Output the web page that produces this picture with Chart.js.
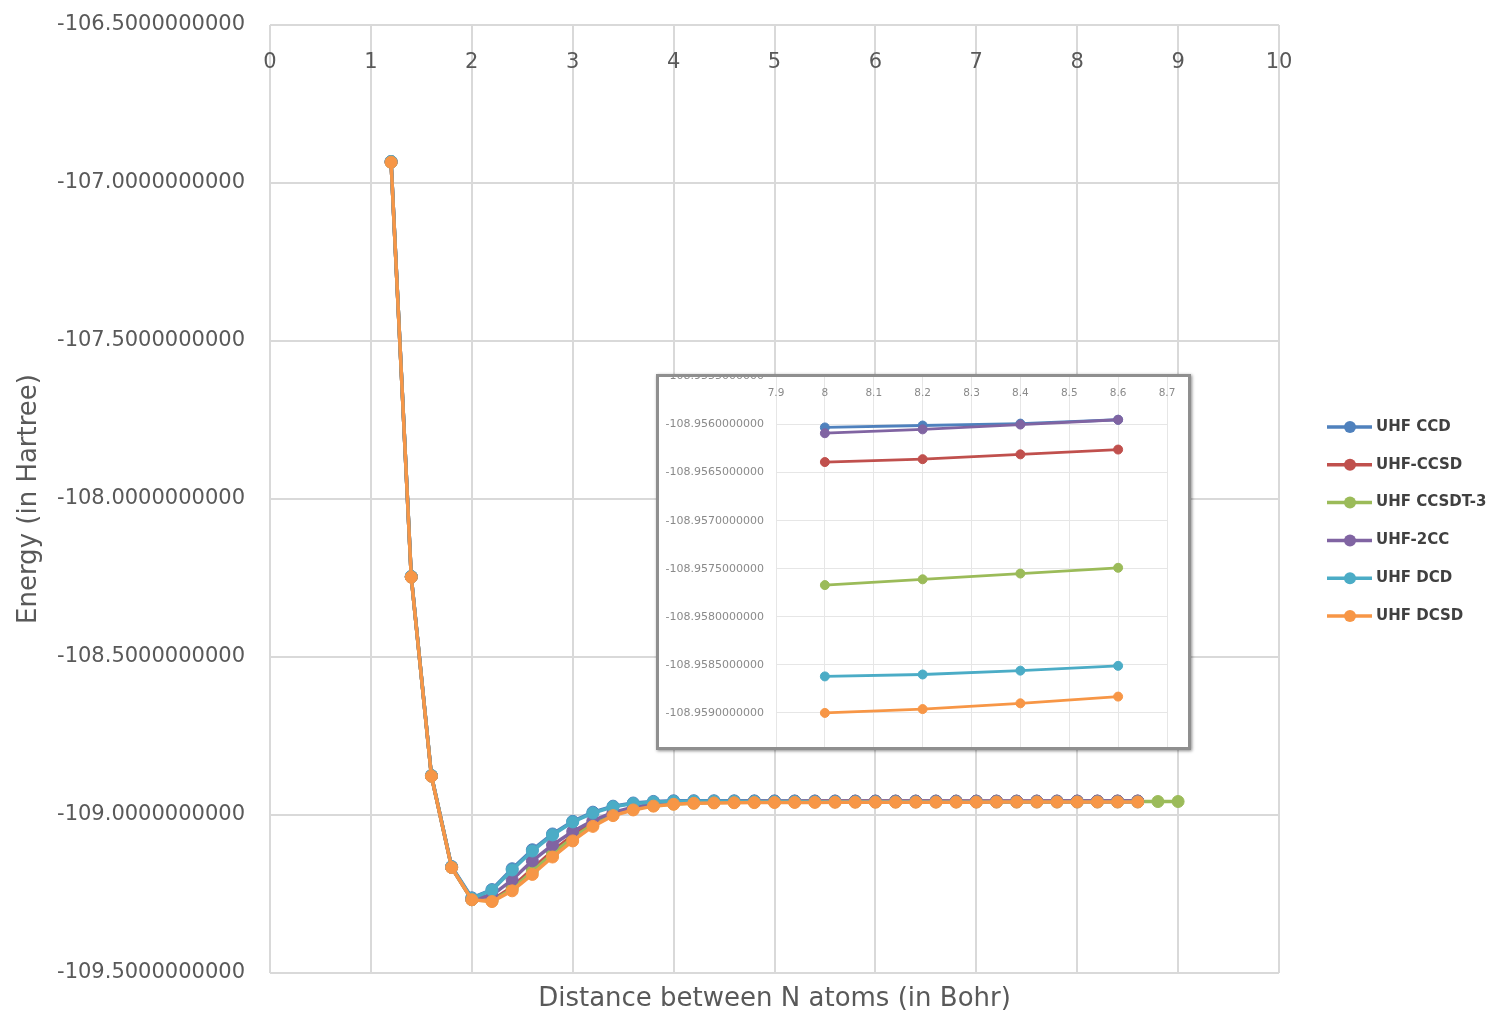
<!DOCTYPE html>
<html>
  <head>
    <meta charset="utf-8"/>
    <style type="text/css">
      body {
        margin: 0px;
        padding: 0px;
        background: #ffffff;
      }
      #wrap {
        position: relative;
        width: 1493px;
        height: 1017px;
      }
      #main {
        position: absolute;
        left: 0;
        top: 0;
      }
      #insetBox {
        position: absolute;
        left: 656px;
        top: 374px;
        width: 535px;
        height: 376px;
        box-sizing: border-box;
        border: 3px solid #8f8f8f;
        box-shadow: 1px 1px 3px rgba(0,0,0,0.45);
        background: #ffffff;
        overflow: hidden;
      }
      #inset {
        position: absolute;
        left: 0;
        top: -6px;
      }
    </style>
  </head>
  <body>
    <div id="wrap">
      <canvas id="main" width="1493" height="1017"></canvas>
      <div id="insetBox">
        <canvas id="inset" width="529" height="400"></canvas>
      </div>
    </div>
  </body>
  <script src="https://cdn.jsdelivr.net/npm/chart.js@4.4.1/dist/chart.umd.min.js"></script>
  <script>
    // distances (Bohr)
    var distances = [1.2, 1.4, 1.6, 1.8, 2.0, 2.2, 2.4, 2.6, 2.8, 3.0, 3.2, 3.4, 3.6, 3.8, 4.0,
      4.2, 4.4, 4.6, 4.8, 5.0, 5.2, 5.4, 5.6, 5.8, 6.0, 6.2, 6.4, 6.6, 6.8, 7.0,
      7.2, 7.4, 7.6, 7.8, 8.0, 8.2, 8.4, 8.6];
    var distancesLong = distances.concat([8.8, 9.0]);

    // energies (Hartree)
    var uhfCcd = [-106.932, -108.245, -108.875, -109.163, -109.262, -109.236, -109.170, -109.110, -109.060, -109.020,
      -108.991, -108.972, -108.962, -108.957, -108.955, -108.9548, -108.9549, -108.9551, -108.9553, -108.9555,
      -108.9556, -108.9557, -108.9558, -108.9559, -108.9559, -108.9560, -108.9560, -108.9560, -108.9561, -108.9561,
      -108.9561, -108.9561, -108.9561, -108.9560, -108.95603, -108.95601, -108.95599, -108.95595];
    var uhfCcsd = [-106.934, -108.247, -108.877, -109.166, -109.268, -109.270, -109.228, -109.170, -109.114, -109.065,
      -109.024, -108.995, -108.978, -108.968, -108.963, -108.960, -108.9588, -108.9581, -108.9576, -108.9572,
      -108.9570, -108.9568, -108.9567, -108.9566, -108.9566, -108.9565, -108.9565, -108.9565, -108.9565, -108.9565,
      -108.9565, -108.9565, -108.9564, -108.9564, -108.95639, -108.95636, -108.95631, -108.95626];
    var uhfCcsdt3 = [-106.934, -108.247, -108.877, -109.166, -109.268, -109.272, -109.234, -109.178, -109.122, -109.072,
      -109.030, -108.998, -108.980, -108.970, -108.965, -108.962, -108.9605, -108.9597, -108.9592, -108.9588,
      -108.9585, -108.9583, -108.9582, -108.9581, -108.9580, -108.9579, -108.9579, -108.9578, -108.9578, -108.9578,
      -108.9578, -108.9577, -108.9577, -108.9577, -108.95767, -108.95761, -108.95755, -108.95749, -108.9574, -108.9573];
    var uhf2cc = [-106.933, -108.246, -108.876, -109.165, -109.266, -109.254, -109.205, -109.145, -109.095, -109.052,
      -109.018, -108.992, -108.975, -108.966, -108.961, -108.9585, -108.9573, -108.9567, -108.9564, -108.9562,
      -108.9562, -108.9562, -108.9562, -108.9562, -108.9562, -108.9562, -108.9562, -108.9562, -108.9562, -108.9562,
      -108.9562, -108.9562, -108.9561, -108.9561, -108.95609, -108.95605, -108.95600, -108.95595];
    var uhfDcd = [-106.932, -108.245, -108.875, -109.164, -109.264, -109.238, -109.174, -109.114, -109.063, -109.022,
      -108.994, -108.974, -108.964, -108.959, -108.957, -108.9565, -108.9565, -108.9568, -108.9571, -108.9574,
      -108.9576, -108.9578, -108.9579, -108.9581, -108.9582, -108.9583, -108.9584, -108.9585, -108.9585, -108.9586,
      -108.9586, -108.9586, -108.9586, -108.9586, -108.95862, -108.95860, -108.95856, -108.95851];
    var uhfDcsd = [-106.934, -108.247, -108.877, -109.166, -109.268, -109.274, -109.240, -109.188, -109.133, -109.082,
      -109.036, -109.002, -108.984, -108.972, -108.966, -108.963, -108.9618, -108.9612, -108.9608, -108.9605,
      -108.9603, -108.9601, -108.9599, -108.9598, -108.9597, -108.9596, -108.9595, -108.9594, -108.9593, -108.9593,
      -108.9592, -108.9592, -108.9591, -108.9591, -108.95900, -108.95896, -108.95890, -108.95883];

    var seriesNames = ['UHF CCD', 'UHF-CCSD', 'UHF CCSDT-3', 'UHF-2CC', 'UHF DCD', 'UHF DCSD'];
    var seriesColors = ['#4f81bd', '#c0504d', '#9bbb59', '#8064a2', '#4bacc6', '#f79646'];
    var seriesValues = [uhfCcd, uhfCcsd, uhfCcsdt3, uhf2cc, uhfDcd, uhfDcsd];
    var seriesX = [distances, distances, distancesLong, distances, distances, distances];

    // axis ticks
    var xTicks = [0, 1, 2, 3, 4, 5, 6, 7, 8, 9, 10];
    var yTicks = [-106.5, -107.0, -107.5, -108.0, -108.5, -109.0, -109.5];
    var xTicksInset = [7.9, 8.0, 8.1, 8.2, 8.3, 8.4, 8.5, 8.6, 8.7];
    var yTicksInset = [-108.9555, -108.9560, -108.9565, -108.9570, -108.9575, -108.9580, -108.9585, -108.9590, -108.9595];

    var FONT = 'DejaVu Sans';
    var GREY = '#595959';

    function points(i, lo, hi) {
      var out = [];
      seriesX[i].forEach(function(x, k) {
        if (x >= lo && x <= hi) out.push({x: x, y: seriesValues[i][k]});
      });
      return out;
    }

    function makeDatasets(lo, hi, lw, r) {
      return seriesNames.map(function(name, i) {
        return {
          label: name,
          data: points(i, lo, hi),
          borderColor: seriesColors[i],
          backgroundColor: seriesColors[i],
          pointBackgroundColor: seriesColors[i],
          pointBorderColor: seriesColors[i],
          borderWidth: lw,
          pointRadius: r,
          pointBorderWidth: 1,
          pointHoverRadius: r,
          tension: 0,
          order: seriesNames.length - 1 - i
        };
      });
    }

    // y labels may stick out of the plot, keep the plot box where it is
    function noLabelPadding(s) {
      s.paddingTop = 0;
      s.paddingBottom = 0;
    }

    var sideLegend = {
      id: 'sideLegend',
      afterDraw: function(chart) {
        var ctx = chart.ctx;
        var x0 = chart.chartArea.right + 48;
        chart.data.datasets.forEach(function(ds, i) {
          var y = 427 + i * 37.8;
          ctx.save();
          ctx.strokeStyle = ds.borderColor;
          ctx.lineWidth = 3.5;
          ctx.beginPath();
          ctx.moveTo(x0, y);
          ctx.lineTo(x0 + 45, y);
          ctx.stroke();
          ctx.fillStyle = ds.borderColor;
          ctx.beginPath();
          ctx.arc(x0 + 23, y, 6, 0, Math.PI * 2);
          ctx.fill();
          ctx.fillStyle = '#404040';
          ctx.font = 'bold 15px "' + FONT + '"';
          ctx.textBaseline = 'middle';
          ctx.fillText(ds.label, x0 + 49, y);
          ctx.restore();
        });
      }
    };

    new Chart(document.getElementById('main'), {
      type: 'line',
      data: { datasets: makeDatasets(0, 10, 3.5, 6) },
      plugins: [sideLegend],
      options: {
        responsive: false,
        animation: false,
        layout: { padding: { top: 25, right: 214, left: 0, bottom: 0 } },
        plugins: { legend: { display: false }, tooltip: { enabled: false } },
        scales: {
          x: {
            type: 'linear',
            min: 0,
            max: 10,
            position: { y: -106.5 },
            afterBuildTicks: function(s) { s.ticks = xTicks.map(function(v) { return {value: v}; }); },
            afterFit: function(s) { s.height = 0; },
            ticks: { padding: 25, autoSkip: false, maxRotation: 0, color: GREY, font: { family: FONT, size: 21 } },
            grid: { color: '#d9d9d9', lineWidth: 2, drawTicks: false },
            border: { display: false }
          },
          y: {
            type: 'linear',
            min: -109.5,
            max: -106.5,
            position: 'left',
            afterBuildTicks: function(s) { s.ticks = yTicks.map(function(v) { return {value: v}; }); },
            afterFit: function(s) { s.width = 270; noLabelPadding(s); },
            ticks: {
              padding: 25,
              color: GREY,
              font: { family: FONT, size: 21 },
              callback: function(v) { return Number(v).toFixed(10); }
            },
            grid: { color: '#d9d9d9', lineWidth: 2, drawTicks: false },
            border: { display: false },
            title: {
              display: true,
              text: 'Energy (in Hartree)',
              color: GREY,
              font: { family: FONT, size: 26, lineHeight: 1.2 },
              padding: { top: 14, bottom: 0 }
            }
          },
          xTitle: {
            type: 'linear',
            axis: 'x',
            min: 0,
            max: 10,
            position: 'bottom',
            afterFit: function(s) { s.height = 44; },
            ticks: { display: false },
            grid: { display: false },
            border: { display: false },
            title: {
              display: true,
              text: 'Distance between N atoms (in Bohr)',
              color: GREY,
              font: { family: FONT, size: 26, lineHeight: 1.2 },
              padding: { top: 0, bottom: 2 }
            }
          }
        }
      }
    });

    // zoomed inset, 8.0 - 8.6 Bohr
    new Chart(document.getElementById('inset'), {
      type: 'line',
      data: { datasets: makeDatasets(7.99, 8.61, 2.8, 4.5) },
      options: {
        responsive: false,
        animation: false,
        layout: { padding: { top: 1, right: 21, left: 0, bottom: 10 } },
        plugins: { legend: { display: false }, tooltip: { enabled: false } },
        scales: {
          x: {
            type: 'linear',
            min: 7.9,
            max: 8.7,
            position: { y: -108.9555 },
            afterBuildTicks: function(s) { s.ticks = xTicksInset.map(function(v) { return {value: v}; }); },
            afterFit: function(s) { s.height = 0; },
            ticks: {
              padding: 10,
              autoSkip: false,
              maxRotation: 0,
              color: '#8a8a8a',
              font: { family: FONT, size: 10.5 },
              callback: function(v) { return String(Number(Number(v).toFixed(1))); }
            },
            grid: { color: '#e6e6e6', lineWidth: 1, drawTicks: false },
            border: { display: false }
          },
          y: {
            type: 'linear',
            min: -108.9595,
            max: -108.9555,
            position: 'left',
            afterBuildTicks: function(s) { s.ticks = yTicksInset.map(function(v) { return {value: v}; }); },
            afterFit: function(s) { s.width = 117; noLabelPadding(s); },
            ticks: {
              padding: 12,
              color: '#8a8a8a',
              font: { family: FONT, size: 11 },
              callback: function(v) { return Number(v).toFixed(10); }
            },
            grid: { color: '#e6e6e6', lineWidth: 1, drawTicks: false },
            border: { display: false }
          }
        }
      }
    });
  </script>
</html>
